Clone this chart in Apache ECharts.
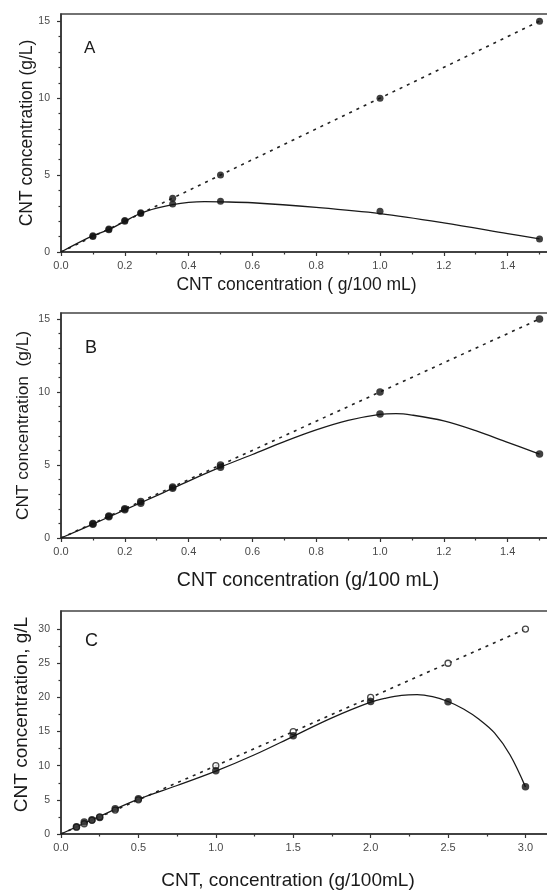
<!DOCTYPE html>
<html>
<head>
<meta charset="utf-8">
<script src="https://cdn.jsdelivr.net/npm/echarts@6/dist/echarts.min.js"></script>
<style>
  html, body { margin: 0; padding: 0; background: #fff; }
  #chart { width: 547px; height: 891px; }
</style>
</head>
<body>
<div id="chart"></div>
<script>
// ---- panel A ----
var ptsXA = [0.1, 0.15, 0.2, 0.25, 0.35, 0.5, 1.0, 1.5];
var measA = [1.05, 1.45, 2.05, 2.55, 3.12, 3.3, 2.65, 0.85];
var idealA = [1, 1.5, 2, 2.5, 3.5, 5, 10, 15];
var fitXA = [0, 0.1, 0.15, 0.2, 0.25, 0.3, 0.35, 0.4, 0.45, 0.5, 0.6, 0.8, 1.0, 1.2, 1.4, 1.5];
var fitYA = [0, 1.06, 1.45, 2.0, 2.52, 2.85, 3.08, 3.22, 3.27, 3.26, 3.2, 2.9, 2.5, 1.9, 1.2, 0.85];

// ---- panel B ----
var ptsXB = [0.1, 0.15, 0.2, 0.25, 0.35, 0.5, 1.0, 1.5];
var measB = [0.95, 1.45, 1.93, 2.38, 3.4, 4.85, 8.5, 5.75];
var idealB = [1, 1.5, 2, 2.5, 3.5, 5, 10, 15];
var fitXB = [0, 0.1, 0.2, 0.3, 0.4, 0.5, 0.6, 0.7, 0.8, 0.9, 1.0, 1.05, 1.1, 1.2, 1.3, 1.4, 1.5];
var fitYB = [0, 0.95, 1.93, 2.9, 3.9, 4.85, 5.72, 6.6, 7.4, 8.05, 8.47, 8.52, 8.42, 8.02, 7.35, 6.55, 5.75];

// ---- panel C ----
var ptsXC = [0.1, 0.15, 0.2, 0.25, 0.35, 0.5, 1.0, 1.5, 2.0, 2.5, 3.0];
var measC = [1.07, 1.75, 2.1, 2.4, 3.7, 5.15, 9.25, 14.4, 19.4, 19.35, 6.9];
var idealC = [1, 1.5, 2, 2.5, 3.5, 5, 10, 15, 20, 25, 30];
var fitXC = [0, 0.25, 0.5, 0.75, 1.0, 1.25, 1.5, 1.75, 2.0, 2.1, 2.2, 2.3, 2.4, 2.5, 2.6, 2.7, 2.8, 2.9, 3.0];
var fitYC = [0, 2.6, 5.1, 7.1, 9.2, 11.6, 14.3, 17.0, 19.3, 19.9, 20.3, 20.4, 20.1, 19.4, 18.3, 16.8, 14.8, 11.6, 6.9];

// dashed 1:1 lines (end points)
var lineXAB = [0, 1.5], lineYAB = [0, 15];
var lineXC = [0, 3.0], lineYC = [0, 30];

// tick labels
var xTicksAB = [0, 0.2, 0.4, 0.6, 0.8, 1.0, 1.2, 1.4];
var xMinorAB = [0.1, 0.3, 0.5, 0.7, 0.9, 1.1, 1.3, 1.5];
var yTicksAB = [0, 5, 10, 15];
var yMinorAB = [1, 2, 3, 4, 6, 7, 8, 9, 11, 12, 13, 14];
var xTicksC = [0, 0.5, 1.0, 1.5, 2.0, 2.5, 3.0];
var xMinorC = [0.25, 0.75, 1.25, 1.75, 2.25, 2.75];
var yTicksC = [0, 5, 10, 15, 20, 25, 30];
var yMinorC = [2.5, 7.5, 12.5, 17.5, 22.5, 27.5];

function pairs(xs, ys) {
  return xs.map(function (x, i) { return [x, ys[i]]; });
}

var FONT = 'Liberation Sans, Arial, sans-serif';
var INK = '#1a1a1a';

function mainX(idx, max, ticks, name, size, gap, pad) {
  return {
    type: 'value', gridIndex: idx, min: 0, max: max, position: 'bottom',
    splitLine: { show: false },
    axisLine: { onZero: false, lineStyle: { color: '#333', width: 1.5 } },
    axisTick: { customValues: ticks, length: 4, lineStyle: { color: '#333', width: 1.2 } },
    axisLabel: {
      customValues: ticks, margin: 8, fontSize: 11, color: '#4a4a4a', fontFamily: FONT,
      formatter: function (v) { return v.toFixed(1); }
    },
    name: name, nameLocation: 'middle', nameGap: gap, nameMoveOverlap: false,
    nameTextStyle: { fontSize: size, color: INK, fontFamily: FONT, padding: pad }
  };
}
function minorX(idx, max, ticks) {
  return {
    type: 'value', gridIndex: idx, min: 0, max: max, position: 'bottom',
    splitLine: { show: false }, axisLine: { show: false, onZero: false },
    axisTick: { customValues: ticks, length: 2.5, lineStyle: { color: '#333', width: 1.2 } },
    axisLabel: { show: false }
  };
}
function mainY(idx, max, ticks, name, size, gap, pad) {
  return {
    type: 'value', gridIndex: idx, min: 0, max: max, position: 'left',
    splitLine: { show: false },
    axisLine: { show: true, onZero: false, lineStyle: { color: '#333', width: 1.5 } },
    axisTick: { show: true, customValues: ticks, length: 4, lineStyle: { color: '#333', width: 1.2 } },
    axisLabel: { customValues: ticks, margin: 11, fontSize: 10.5, color: '#4a4a4a', fontFamily: FONT },
    name: name, nameLocation: 'middle', nameGap: gap, nameMoveOverlap: false,
    nameTextStyle: { fontSize: size, color: INK, fontFamily: FONT, padding: pad }
  };
}
function minorY(idx, max, ticks) {
  return {
    type: 'value', gridIndex: idx, min: 0, max: max, position: 'left',
    splitLine: { show: false }, axisLine: { show: false, onZero: false },
    axisTick: { show: true, customValues: ticks, length: 2.5, lineStyle: { color: '#333', width: 1.2 } },
    axisLabel: { show: false }
  };
}

function dashed(ax, xs, ys) {
  return {
    type: 'line', xAxisIndex: ax, yAxisIndex: ax, data: pairs(xs, ys),
    symbol: 'none', z: 2, silent: true,
    lineStyle: { color: '#222', width: 1.6, type: [3, 5] }
  };
}
function fit(ax, xs, ys) {
  return {
    type: 'line', xAxisIndex: ax, yAxisIndex: ax, data: pairs(xs, ys),
    symbol: 'none', smooth: 0.35, z: 3, silent: true,
    lineStyle: { color: INK, width: 1.3 }
  };
}
function dots(ax, xs, ys, size, hollow) {
  return {
    type: 'scatter', xAxisIndex: ax, yAxisIndex: ax, data: pairs(xs, ys),
    symbol: 'circle', symbolSize: size, z: 5, silent: true,
    itemStyle: hollow
      ? { color: '#fff', borderColor: INK, borderWidth: 1.3 }
      : { color: '#111' }
  };
}

var gridStyle = {
  show: true, borderColor: '#444', borderWidth: 1.6, backgroundColor: 'transparent',
  outerBoundsMode: 'none', containLabel: false
};

var option = {
  backgroundColor: '#fff',
  animation: false,
  title: [
    { text: 'A', left: 79, top: 35, textStyle: { fontSize: 17, fontWeight: 'normal', color: INK, fontFamily: FONT } },
    { text: 'B', left: 80, top: 334, textStyle: { fontSize: 18, fontWeight: 'normal', color: INK, fontFamily: FONT } },
    { text: 'C', left: 80, top: 627, textStyle: { fontSize: 18, fontWeight: 'normal', color: INK, fontFamily: FONT } }
  ],
  grid: [
    Object.assign({ left: 61, top: 14, width: 490, height: 238 }, gridStyle),
    Object.assign({ left: 61, top: 313, width: 490, height: 225 }, gridStyle),
    Object.assign({ left: 61, top: 611, width: 490, height: 223 }, gridStyle)
  ],
  xAxis: [
    mainX(0, 1.536, xTicksAB, 'CNT concentration ( g/100 mL)', 17.5, 24, [0, 19, 0, 0]),
    mainX(1, 1.536, xTicksAB, 'CNT concentration (g/100 mL)', 19.5, 33, [0, 0, 0, 4]),
    mainX(2, 3.165, xTicksC, 'CNT, concentration (g/100mL)', 19, 37, [0, 36, 0, 0]),
    minorX(0, 1.536, xMinorAB),
    minorX(1, 1.536, xMinorAB),
    minorX(2, 3.165, xMinorC)
  ],
  yAxis: [
    mainY(0, 15.47, yTicksAB, 'CNT concentration (g/L)', 17.5, 25, [0, 0, 0, 0]),
    mainY(1, 15.41, yTicksAB, 'CNT concentration  (g/L)', 17.3, 29, [0, 0, 0, 0]),
    mainY(2, 32.65, yTicksC, 'CNT concentration, g/L', 19, 30, [0, 0, 0, 16]),
    minorY(0, 15.47, yMinorAB),
    minorY(1, 15.41, yMinorAB),
    minorY(2, 32.65, yMinorC)
  ],
  series: [
    dashed(0, lineXAB, lineYAB),
    fit(0, fitXA, fitYA),
    dots(0, ptsXA, idealA, 7, false),
    dots(0, ptsXA, measA, 7, false),

    dashed(1, lineXAB, lineYAB),
    fit(1, fitXB, fitYB),
    dots(1, ptsXB, idealB, 7.5, false),
    dots(1, ptsXB, measB, 7.5, false),

    dashed(2, lineXC, lineYC),
    fit(2, fitXC, fitYC),
    dots(2, ptsXC, idealC, 6, true),
    dots(2, ptsXC, measC, 7.5, false)
  ]
};

var chart = echarts.init(document.getElementById('chart'));
chart.setOption(option);
</script>
</body>
</html>
